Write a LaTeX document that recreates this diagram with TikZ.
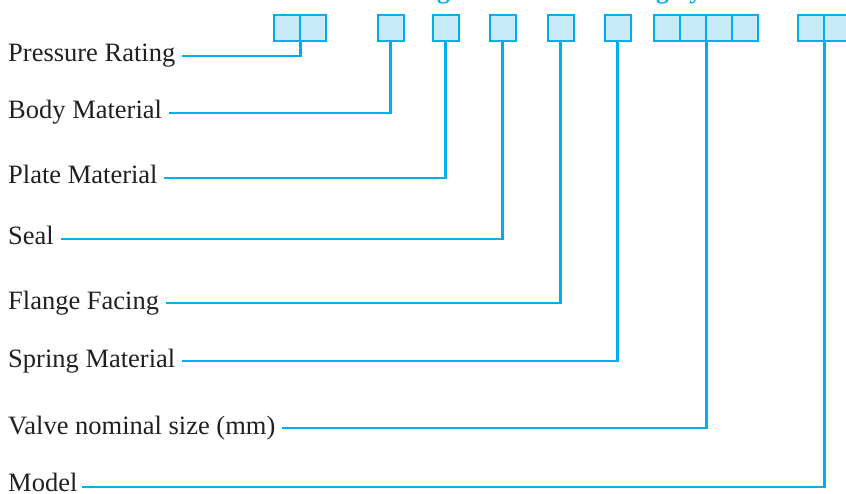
\documentclass[tikz,border=0pt]{standalone}
\usepackage{fontspec}
\setmainfont{Liberation Serif}
\definecolor{codeblue}{HTML}{00AEEF}
\definecolor{cellfill}{HTML}{C7E9F8}
\definecolor{labeltext}{HTML}{231F20}
\begin{document}
\begin{tikzpicture}[x=1pt,y=-1pt,
  cell/.style={draw=codeblue,fill=cellfill,line width=1.6pt,
    minimum width=26pt,minimum height=26pt,inner sep=0pt,anchor=north west},
  lbl/.style={anchor=base west,inner sep=0pt,text=labeltext,
    font=\fontsize{26.5}{30}\selectfont},
  conn/.style={draw=codeblue,line width=2.8pt,line cap=rect}]
\useasboundingbox (0,0) rectangle (846,494);

% heading above the code cells (runs off the top edge)
\begin{scope}
  \clip (0,0) rectangle (846,494);
  \node[anchor=base west,inner sep=0pt,text=codeblue,
    font=\fontsize{25.5}{30}\selectfont\bfseries] (title) at (353.4,-1)
    {Marking Code and Ordering System};
\end{scope}

% code cells
\node[cell] (p1) at (273,14) {};
\node[cell] (p2) at (299,14) {};
\node[cell] (bm) at (377,14) {};
\node[cell] (pm) at (432,14) {};
\node[cell] (se) at (489,14) {};
\node[cell] (ff) at (547,14) {};
\node[cell] (sm) at (604,14) {};
\node[cell] (v1) at (653,14) {};
\node[cell] (v2) at (679,14) {};
\node[cell] (v3) at (705,14) {};
\node[cell] (v4) at (731,14) {};
\node[cell] (m1) at (797,14) {};
\node[cell] (m2) at (823,14) {};

% labels
\node[lbl] (lp) at (8,62)  {Pressure Rating};
\node[lbl] (lb) at (8,119) {Body Material};
\node[lbl] (ll) at (8,184) {Plate Material};
\node[lbl] (ls) at (8,245) {Seal};
\node[lbl] (lf) at (8,309) {Flange Facing};
\node[lbl] (lm) at (8,367) {Spring Material};
\node[lbl] (lv) at (8,434) {Valve nominal size (mm)};
\node[lbl] (lo) at (8,491.5) {Model};

% leader lines from each label to its cell
\draw[conn] ([shift={(8,-6)}]lp.base east) -| (p1.south east);
\draw[conn] ([shift={(8,-6)}]lb.base east) -| (bm.south);
\draw[conn] ([shift={(8,-6)}]ll.base east) -| (pm.south);
\draw[conn] ([shift={(8,-6)}]ls.base east) -| (se.south);
\draw[conn] ([shift={(8,-6)}]lf.base east) -| (ff.south);
\draw[conn] ([shift={(8,-6)}]lm.base east) -| (sm.south);
\draw[conn] ([shift={(8,-6)}]lv.base east) -| (v2.south east);
\draw[conn] ([shift={(6,-4.5)}]lo.base east) -| (m1.south east);
\end{tikzpicture}
\end{document}
